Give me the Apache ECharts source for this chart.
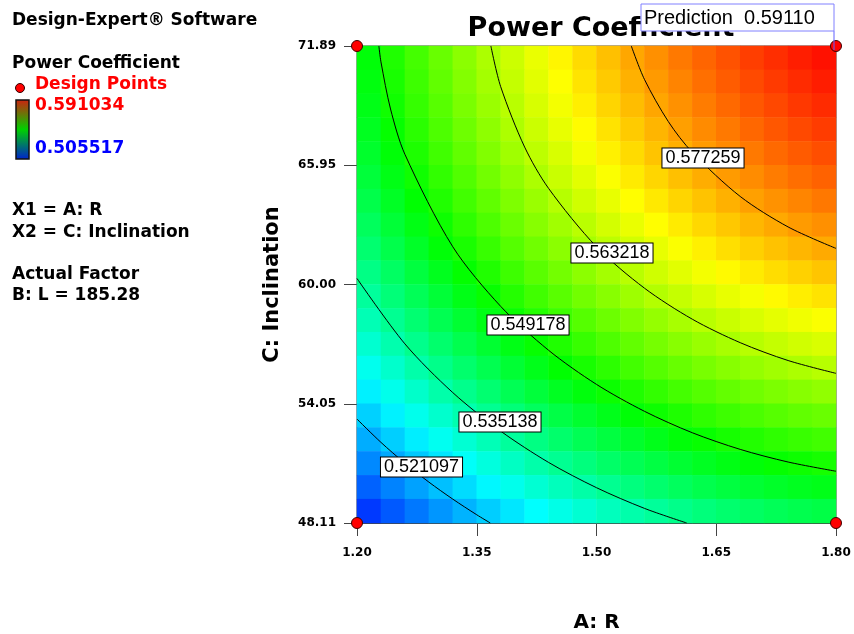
<!DOCTYPE html>
<html><head><meta charset="utf-8">
<script src="https://cdn.jsdelivr.net/npm/echarts@6/dist/echarts.min.js"></script>
<style>html,body{margin:0;padding:0;background:#fff}#c{width:854px;height:634px}</style>
</head><body><div id="c"></div>
<script>
// ---------- data ----------
const xTicks = [1.20, 1.35, 1.50, 1.65, 1.80];
const yTicks = [48.11, 54.05, 60.00, 65.95, 71.89];
const xRange = [1.20, 1.80];
const yRange = [48.11, 71.89];
const colorMin = 0.505517;
const colorMax = 0.591034;
const predictionPoint = [1.80, 71.89];
const predictionValue = '0.59110';
const designPoints = [[1.20, 48.11], [1.80, 48.11], [1.20, 71.89], [1.80, 71.89]];
const contourLevels = [0.521097, 0.535138, 0.549178, 0.563218, 0.577259];
const contour1 = [[1.20,53.29],[1.23,52.13],[1.26,51.09],[1.29,50.15],[1.32,49.30],[1.35,48.52],[1.367,48.11]];
const contour2 = [[1.20,60.30],[1.26,57.04],[1.32,54.61],[1.38,52.69],[1.44,51.13],[1.50,49.87],[1.56,48.84],[1.613,48.11]];
const contour3 = [[1.2274,71.89],[1.23,71.10],[1.242,68.75],[1.26,66.49],[1.32,61.88],[1.38,58.91],[1.44,56.72],[1.50,55.02],[1.56,53.68],[1.62,52.61],[1.68,51.78],[1.74,51.15],[1.80,50.69]];
const contour4 = [[1.3677,71.89],[1.38,69.86],[1.41,66.85],[1.44,64.79],[1.50,61.88],[1.56,59.82],[1.62,58.27],[1.68,57.10],[1.74,56.21],[1.80,55.57]];
const contour5 = [[1.5436,71.89],[1.56,70.23],[1.59,68.12],[1.62,66.59],[1.68,64.39],[1.74,62.87],[1.80,61.80]];
const contourLabelPos = [[1.2808,50.90],[1.3791,53.14],[1.4142,57.98],[1.5194,61.57],[1.6334,66.31]];
// Power coefficient (x 1e-4) on a 20 x 20 cell grid; rows from top (C=71.89) to bottom (C=48.11), columns A=1.20 -> 1.80
const powerGrid = [
[5476,5509,5540,5570,5599,5627,5654,5679,5704,5727,5749,5770,5790,5809,5826,5842,5858,5872,5885,5896],
[5471,5503,5534,5564,5593,5620,5647,5672,5696,5719,5741,5762,5781,5800,5817,5833,5848,5862,5874,5886],
[5464,5496,5527,5556,5585,5612,5638,5663,5687,5710,5732,5752,5771,5789,5806,5822,5837,5850,5863,5874],
[5456,5487,5518,5547,5575,5602,5628,5653,5677,5699,5720,5740,5759,5777,5794,5809,5824,5837,5849,5860],
[5446,5477,5507,5536,5564,5591,5617,5641,5664,5687,5708,5727,5746,5764,5780,5795,5809,5822,5834,5845],
[5434,5465,5495,5524,5551,5578,5603,5627,5651,5672,5693,5713,5731,5749,5765,5780,5793,5806,5818,5828],
[5421,5452,5481,5510,5537,5563,5588,5612,5635,5657,5677,5697,5715,5732,5747,5762,5776,5788,5799,5810],
[5406,5437,5466,5494,5521,5547,5572,5596,5618,5639,5660,5679,5697,5713,5729,5743,5757,5769,5780,5790],
[5390,5420,5449,5477,5504,5529,5554,5577,5599,5621,5640,5659,5677,5693,5709,5723,5736,5748,5758,5768],
[5371,5401,5430,5458,5485,5510,5534,5557,5579,5600,5620,5638,5656,5672,5687,5701,5713,5725,5735,5745],
[5352,5382,5410,5437,5464,5489,5513,5536,5557,5578,5597,5615,5633,5648,5663,5677,5689,5701,5711,5720],
[5331,5360,5388,5415,5441,5466,5490,5512,5534,5554,5573,5591,5608,5624,5638,5651,5664,5675,5685,5693],
[5308,5337,5365,5392,5417,5442,5465,5488,5509,5529,5548,5565,5582,5597,5611,5624,5636,5647,5657,5665],
[5283,5312,5340,5367,5392,5416,5439,5461,5482,5502,5520,5538,5554,5569,5583,5596,5608,5618,5627,5636],
[5257,5286,5313,5340,5365,5389,5412,5433,5454,5473,5492,5509,5525,5540,5553,5566,5577,5587,5596,5604],
[5230,5258,5285,5311,5336,5360,5382,5404,5424,5443,5461,5478,5494,5508,5522,5534,5545,5555,5564,5571],
[5200,5229,5255,5281,5306,5329,5352,5373,5393,5412,5429,5446,5461,5476,5489,5501,5511,5521,5530,5537],
[5170,5197,5224,5249,5274,5297,5319,5340,5360,5378,5396,5412,5427,5441,5454,5466,5476,5486,5494,5501],
[5137,5165,5191,5216,5240,5263,5285,5306,5325,5343,5361,5377,5391,5405,5418,5429,5439,5448,5456,5463],
[5103,5130,5156,5181,5205,5228,5249,5270,5289,5307,5324,5339,5354,5367,5380,5391,5401,5410,5417,5424]
];
const panelTitle = 'Design-Expert® Software';
const responseName = 'Power Coefficient';
const factorLines = ['X1 = A: R', 'X2 = C: Inclination'];
const actualFactorLines = ['Actual Factor', 'B: L = 185.28'];
const xName = 'A: R';
const yName = 'C: Inclination';

// ---------- build ----------
const nRows = powerGrid.length, nCols = powerGrid[0].length;
const heatData = [];
powerGrid.forEach((row, t) => {
  const j = nRows - 1 - t;
  row.forEach((v, i) => heatData.push([i, j, v / 10000]));
});
const catX = Array.from({length: nCols}, (_, i) => i);
const catY = Array.from({length: nRows}, (_, i) => i);
const contours = [contour1, contour2, contour3, contour4, contour5];

const boldFont = '"DejaVu Sans"';
const chart = echarts.init(document.getElementById('c'), null, {renderer: 'canvas'});

const option = {
  animation: false,
  backgroundColor: '#fff',
  title: {
    text: responseName, left: 596, top: 10, textAlign: 'center',
    textStyle: {fontFamily: boldFont, fontWeight: 'bold', fontSize: 27, color: '#000'}
  },
  grid: {left: 357, right: 18, top: 46, bottom: 111, containLabel: false, outerBoundsMode: 'none',
    show: true, borderColor: '#444', borderWidth: 1, backgroundColor: 'transparent'},
  visualMap: {
    show: false, type: 'continuous', min: colorMin, max: colorMax, seriesIndex: 0, dimension: 2,
    inRange: {color: ['#0000ff', '#00ffff', '#00ff00', '#ffff00', '#ff0000']}
  },
  xAxis: [
    {
      type: 'value', min: xRange[0], max: xRange[1], gridIndex: 0,
      name: xName, nameLocation: 'middle', nameGap: 90,
      nameTextStyle: {fontFamily: boldFont, fontWeight: 'bold', fontSize: 20, color: '#000'},
      axisLine: {show: true, onZero: false, lineStyle: {color: '#444', width: 1}},
      axisTick: {show: true, length: 13, customValues: xTicks, lineStyle: {color: '#444'}},
      axisLabel: {customValues: xTicks, formatter: v => v.toFixed(2), margin: 24,
        fontFamily: boldFont, fontWeight: 'bold', fontSize: 12, color: '#000'},
      splitLine: {show: false}
    },
    {type: 'category', data: catX, gridIndex: 0, show: false, boundaryGap: true}
  ],
  yAxis: [
    {
      type: 'value', min: yRange[0], max: yRange[1], gridIndex: 0,
      name: yName, nameLocation: 'middle', nameGap: 74, nameRotate: 90,
      nameTextStyle: {fontFamily: boldFont, fontWeight: 'bold', fontSize: 21, color: '#000'},
      axisLine: {show: true, onZero: false, lineStyle: {color: '#444', width: 1}},
      axisTick: {show: true, length: 13, customValues: yTicks, lineStyle: {color: '#444'}},
      axisLabel: {customValues: yTicks, formatter: v => v.toFixed(2), margin: 21,
        fontFamily: boldFont, fontWeight: 'bold', fontSize: 12, color: '#000'},
      splitLine: {show: false}
    },
    {type: 'category', data: catY, gridIndex: 0, show: false, boundaryGap: true}
  ],
  series: [
    {
      type: 'heatmap', xAxisIndex: 1, yAxisIndex: 1, data: heatData,
      itemStyle: {borderWidth: 0}, emphasis: {disabled: true}, z: 1
    },
    ...contours.map((c) => ({
      type: 'line', xAxisIndex: 0, yAxisIndex: 0, data: c, smooth: 0.3,
      symbol: 'none', lineStyle: {color: '#000', width: 1}, z: 3, silent: true
    })),
    {
      type: 'scatter', xAxisIndex: 0, yAxisIndex: 0, symbolSize: 0, z: 5, silent: true,
      itemStyle: {opacity: 1},
      data: contourLabelPos.map((p, k) => [p[0], p[1], contourLevels[k]]),
      label: {
        show: true, position: 'inside', formatter: p => p.value[2].toFixed(6), opacity: 1,
        fontFamily: '"Liberation Sans"', fontSize: 18, color: '#000',
        backgroundColor: '#ffffff', borderColor: '#000', borderWidth: 1, padding: [1, 3, 0, 3]
      }
    },
    {
      type: 'scatter', xAxisIndex: 0, yAxisIndex: 0, data: designPoints, symbol: 'circle',
      symbolSize: 11, clip: false, z: 8, silent: true,
      itemStyle: {color: '#ff0000', borderColor: '#400000', borderWidth: 1, opacity: 1}
    }
  ]
};
chart.setOption(option);

// annotations: left panel and prediction flag
const panelFont = 'bold 17px "DejaVu Sans"';
const g = [];
function txt(text, x, y, fill) {
  g.push({type: 'text', x: x, y: y, z: 50, silent: true,
    style: {text: text, fill: fill || '#000', font: panelFont, verticalAlign: 'middle', align: 'left'}});
}
txt(panelTitle, 12, 21);
txt(responseName, 12, 64);
g.push({type: 'circle', shape: {cx: 20, cy: 88, r: 4.5}, z: 50, silent: true,
  style: {fill: '#ff0000', stroke: '#300000', lineWidth: 1}});
txt('Design Points', 35, 85, '#ff0000');
g.push({type: 'rect', shape: {x: 16, y: 100, width: 13, height: 59}, z: 50, silent: true,
  style: {
    fill: new echarts.graphic.LinearGradient(0, 0, 0, 1, [
      {offset: 0, color: '#d02010'}, {offset: 0.5, color: '#00d000'}, {offset: 1, color: '#0020d0'}]),
    stroke: '#111', lineWidth: 1.5}});
txt(colorMax.toFixed(6), 35, 106, '#ff0000');
txt(colorMin.toFixed(6), 35, 149, '#0000ff');
txt(factorLines[0], 12, 211);
txt(factorLines[1], 12, 233);
txt(actualFactorLines[0], 12, 275);
txt(actualFactorLines[1], 12, 296);

const pp = chart.convertToPixel({xAxisIndex: 0, yAxisIndex: 0}, predictionPoint);
const bx = pp[0] - 2, by = pp[1];
g.push({type: 'line', z: 60, silent: true, shape: {x1: bx, y1: by - 15, x2: bx, y2: by + 4},
  style: {stroke: '#6060ff', lineWidth: 1}});
g.push({type: 'rect', z: 60, silent: true, shape: {x: bx - 193, y: by - 42, width: 193, height: 27},
  style: {fill: '#fff', stroke: '#8080ff', lineWidth: 1}});
g.push({type: 'text', z: 61, silent: true, x: bx - 190, y: by - 28,
  style: {text: 'Prediction  ' + predictionValue, fill: '#000', font: '20px "Liberation Sans"', verticalAlign: 'middle', align: 'left'}});
chart.setOption({graphic: g});
</script>
</body></html>
